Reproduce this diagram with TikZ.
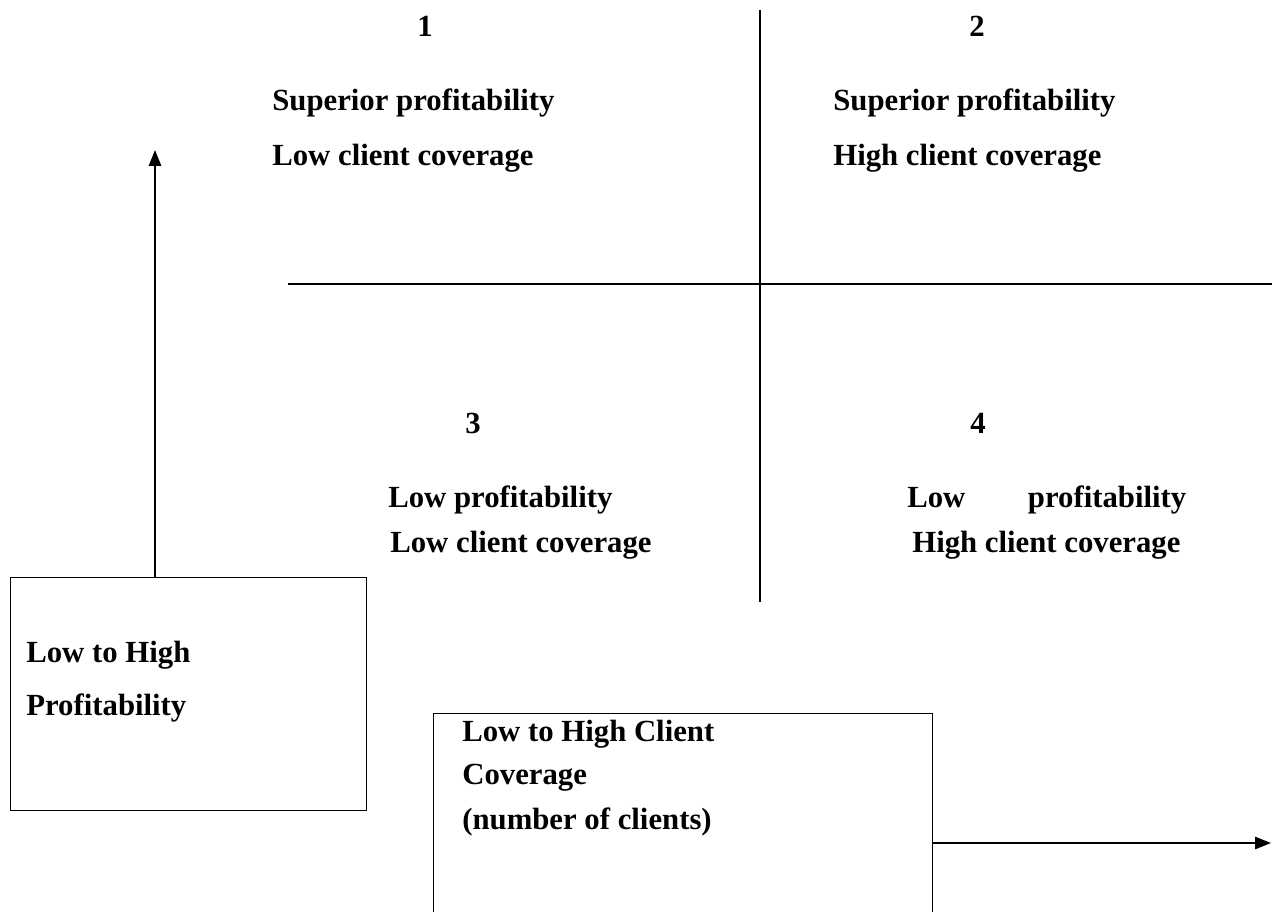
\documentclass[tikz,border=0pt]{standalone}
\usepackage{fontspec}
\setmainfont{Liberation Serif}
\usetikzlibrary{arrows.meta}
\begin{document}
\begin{tikzpicture}[
      x=0.02cm, y=-0.02cm,
      every node/.style={font=\fontsize{17.5}{20}\selectfont\bfseries, inner sep=0pt},
      lbl/.style={anchor=west},
      num/.style={anchor=center},
      axisbox/.style={draw, line width=0.8pt, anchor=north west},
      axis/.style={line width=0.8pt},
      arr/.style={line width=0.8pt, -{Triangle[length=9pt, width=7pt]}},
    ]
      \useasboundingbox (0,0) rectangle (1272,912);
      % quadrant lines
      \coordinate (vtop) at (760,10);
      \coordinate (vbot) at (760,602);
      \coordinate (hleft) at (288,284);
      \coordinate (hright) at (1272,284);
      \draw[axis] (vtop) -- (vbot);
      \draw[axis] (hleft) -- (hright);
      % quadrant 1
      \node[num] (n1) at (425,26) {1};
      \node[lbl] (q1a) at (272,103) {Superior profitability};
      \node[lbl] (q1b) at (272,158) {Low client coverage};
      % quadrant 2
      \node[num] (n2) at (977,26) {2};
      \node[lbl] (q2a) at (833,103) {Superior profitability};
      \node[lbl] (q2b) at (833,158) {High client coverage};
      % quadrant 3
      \node[num] (n3) at (473,423) {3};
      \node[lbl] (q3a) at (388,500) {Low profitability};
      \node[lbl] (q3b) at (390,545) {Low client coverage};
      % quadrant 4
      \node[num] (n4) at (978,423) {4};
      \node[lbl] (q4a) at (907,500) {Low\hspace{1.25cm}profitability};
      \node[lbl] (q4b) at (912,545) {High client coverage};
      % profitability box and arrow
      \node[axisbox, minimum width=7.12cm, minimum height=4.66cm] (pbox) at (10,577) {};
      \node[lbl] (pboxa) at (26,655) {Low to High};
      \node[lbl] (pboxb) at (26,708) {Profitability};
      \coordinate (ptip) at (155,150);
      \draw[arr] (pbox.north -| ptip) -- (ptip);
      % coverage box and arrow
      \node[axisbox, minimum width=9.98cm, minimum height=4.2cm] (cbox) at (433,713) {};
      \node[lbl] (cboxa) at (462,734) {Low to High Client};
      \node[lbl] (cboxb) at (462,778) {Coverage};
      \node[lbl] (cboxc) at (462,822) {(number of clients)};
      \coordinate (ctip) at (1271,843);
      \draw[arr] (cbox.east |- ctip) -- (ctip);
\end{tikzpicture}
\end{document}
